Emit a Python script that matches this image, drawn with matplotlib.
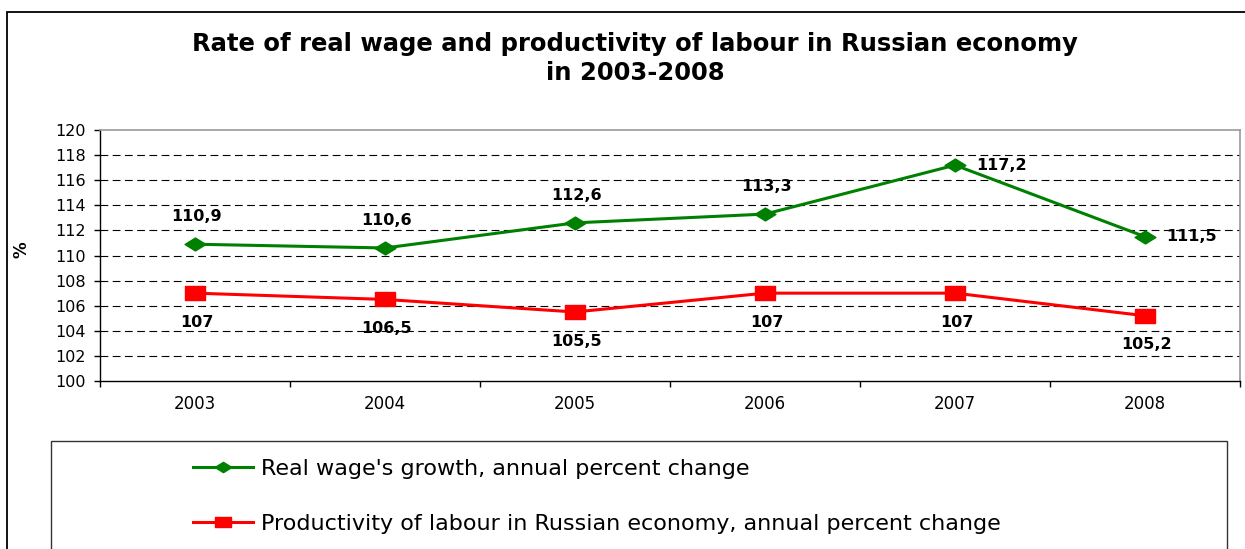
import matplotlib
matplotlib.use("Agg")
import matplotlib.pyplot as plt
import numpy as np
from matplotlib.path import Path
from matplotlib.patches import Rectangle

plt.rcParams['font.family'] = ['DejaVu Sans']

years = ['2003', '2004', '2005', '2006', '2007', '2008']
real_wage = [110.9, 110.6, 112.6, 113.3, 117.2, 111.5]
productivity = [107, 106.5, 105.5, 107, 107, 105.2]
wage_label = "Real wage's growth, annual percent change"
prod_label = "Productivity of labour in Russian economy, annual percent change"
yticks = list(range(100, 121, 2))

GREEN = '#008000'
RED = '#ff0000'

# flattened marker shapes (wider than tall)
diamond = Path([(-1, 0), (0, 0.62), (1, 0), (0, -0.62), (-1, 0)],
               [Path.MOVETO, Path.LINETO, Path.LINETO, Path.LINETO, Path.CLOSEPOLY])
rect = Path([(-1, -0.66), (1, -0.66), (1, 0.66), (-1, 0.66), (-1, -0.66)],
            [Path.MOVETO, Path.LINETO, Path.LINETO, Path.LINETO, Path.CLOSEPOLY])


def fmt(v):
    s = ('%g' % v)
    return s.replace('.', ',')


fig = plt.figure(figsize=(12.45, 5.49), dpi=100)

# outer chart frame (runs off the right and bottom edges)
fig.patches.append(Rectangle((7 / 1245, -0.1), 1.2, 1 - 12 / 549 + 0.1,
                             transform=fig.transFigure, fill=False,
                             edgecolor='black', lw=1.3))
# legend box
fig.patches.append(Rectangle((51 / 1245, -0.1), (1227 - 51) / 1245, 1 - 441 / 549 + 0.1,
                             transform=fig.transFigure, fill=False,
                             edgecolor='#333333', lw=1.0))

ax = fig.add_axes([100 / 1245, 1 - 381 / 549, 1140 / 1245, 251 / 549])
x = np.arange(len(years)) + 0.5

ax.hlines(yticks[1:-1], 0, len(years), colors='black', lw=0.8,
          linestyles=(0, (7, 4)), zorder=1)

ax.plot(x, real_wage, color=GREEN, lw=2.2, marker=diamond, markersize=15,
        label=wage_label, zorder=3)
ax.plot(x, productivity, color=RED, lw=2.2, marker=rect, markersize=14.5,
        label=prod_label, zorder=3)

for i, v in enumerate(real_wage):
    if i >= 4:
        ax.annotate(fmt(v), (x[i], v), xytext=(15, 0), textcoords='offset points',
                    ha='left', va='center', fontsize=11.5, fontweight='bold')
    else:
        ax.annotate(fmt(v), (x[i], v), xytext=(1, 20), textcoords='offset points',
                    ha='center', va='center', fontsize=11.5, fontweight='bold')

for i, v in enumerate(productivity):
    ax.annotate(fmt(v), (x[i], v), xytext=(1, -21), textcoords='offset points',
                ha='center', va='center', fontsize=11.5, fontweight='bold')

ax.set_xlim(0, len(years))
ax.set_ylim(100, 120)
ax.set_yticks(yticks)
ax.tick_params(axis='y', direction='out', length=4, width=1, pad=6, labelsize=11.5)

ax.set_xticks(np.arange(len(years) + 1))
ax.set_xticklabels([])
ax.set_xticks(x, minor=True)
ax.set_xticklabels(years, minor=True)
ax.tick_params(axis='x', which='major', direction='out', length=4, width=1)
ax.tick_params(axis='x', which='minor', length=0, pad=10, labelsize=12)

for side in ['left', 'bottom']:
    ax.spines[side].set_color('black')
    ax.spines[side].set_linewidth(1)
for side in ['top', 'right']:
    ax.spines[side].set_color('#999999')
    ax.spines[side].set_linewidth(1.2)

fig.text(22 / 1245, 1 - 250 / 549, '%', rotation=90, ha='center', va='center',
         fontsize=12, fontweight='bold')

fig.text(0.51, 1 - 58.5 / 549,
         'Rate of real wage and productivity of labour in Russian economy\nin 2003-2008',
         ha='center', va='center', fontsize=17.5, fontweight='bold', linespacing=1.25)

ax.legend(loc='upper left', bbox_to_anchor=(173 / 1245, 1 - 439 / 549),
          bbox_transform=fig.transFigure, frameon=False, fontsize=16,
          handlelength=2.7, handletextpad=0.36, labelspacing=1.57,
          markerscale=0.8)

fig.savefig('out.png', dpi=100)
